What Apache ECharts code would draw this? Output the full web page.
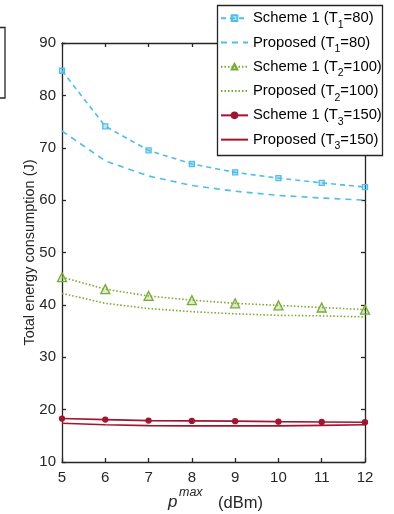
<!DOCTYPE html>
<html><head><meta charset="utf-8">
<script src="https://cdn.jsdelivr.net/npm/echarts@6/dist/echarts.min.js"></script>
<style>html,body{margin:0;padding:0;background:#fff}#c{width:394px;height:514px}</style>
</head><body><div id="c"></div>
<script>
const xValues = [5, 6, 7, 8, 9, 10, 11, 12];
const scheme1T1 = [84.7, 74.1, 69.5, 66.9, 65.3, 64.2, 63.3, 62.5];
const proposedT1 = [73.2, 67.5, 64.6, 62.8, 61.7, 60.9, 60.4, 60.0];
const scheme1T2 = [45.3, 43.0, 41.7, 40.9, 40.3, 39.9, 39.5, 39.1];
const proposedT2 = [42.2, 40.3, 39.3, 38.7, 38.3, 38.0, 37.9, 37.7];
const scheme1T3 = [18.3, 18.1, 17.9, 17.85, 17.8, 17.7, 17.65, 17.6];
const proposedT3 = [17.4, 17.1, 16.95, 16.9, 16.9, 16.9, 17.0, 17.1];
const yTicks = [10, 20, 30, 40, 50, 60, 70, 80, 90];

const BLUE = '#4DBEEE', GREEN = '#77AC30', RED = '#A2142F';
const FONT = 'Liberation Sans, Arial, Helvetica, sans-serif';
const pairs = arr => xValues.map((x, i) => [x, arr[i]]);

const labels = {
  s1t1: '{m|Scheme 1 (T}{sub|1}{m|=80)}',
  pt1: '{m|Proposed (T}{sub|1}{m|=80)}',
  s1t2: '{m|Scheme 1 (T}{sub|2}{m|=100)}',
  pt2: '{m|Proposed (T}{sub|2}{m|=100)}',
  s1t3: '{m|Scheme 1 (T}{sub|3}{m|=150)}',
  pt3: '{m|Proposed (T}{sub|3}{m|=150)}'
};

function ser(name, data, color, type, symbol, size, fill) {
  return {
    name, type: 'line', data: pairs(data), smooth: false,
    symbol: symbol || 'none', symbolSize: size || 0, showSymbol: !!symbol,
    lineStyle: { color, width: 1.6, type },
    itemStyle: { color: fill || color, borderColor: color, borderWidth: 1.3 },
    emphasis: { disabled: true }, animation: false
  };
}

const chart = echarts.init(document.getElementById('c'), null, { renderer: 'canvas' });
const axisCommon = {
  type: 'value',
  axisLine: { show: true, lineStyle: { color: '#262626', width: 1.3 } },
  axisTick: { show: true, inside: true, length: 4, lineStyle: { color: '#262626', width: 1.3 } },
  splitLine: { show: false },
};
const hidden = { opacity: 0, color: 'rgba(0,0,0,0)', borderColor: 'rgba(0,0,0,0)', borderWidth: 0 };
chart.setOption({
  animation: false,
  backgroundColor: '#fff',
  grid: { left: 62, top: 43, right: 29, bottom: 52, containLabel: false },
  xAxis: [
    Object.assign({}, axisCommon, {
      min: 5, max: 12, interval: 1, position: 'bottom',
      axisLabel: { color: '#262626', fontSize: 15, fontFamily: FONT, margin: 8 }
    }),
    Object.assign({}, axisCommon, {
      min: 5, max: 12, interval: 1, position: 'top',
      axisLabel: { show: false }
    })
  ],
  yAxis: [
    Object.assign({}, axisCommon, {
      min: 10, max: 90, interval: 10, position: 'left',
      axisLabel: { color: '#262626', fontSize: 15, fontFamily: FONT, margin: 6, customValues: yTicks },
      name: 'Total energy consumption (J)', nameLocation: 'middle', nameGap: 25,
      nameMoveOverlap: false,
      nameTextStyle: { color: '#262626', fontSize: 14.5, fontFamily: FONT }
    }),
    Object.assign({}, axisCommon, {
      min: 10, max: 90, interval: 10, position: 'right',
      axisLabel: { show: false }
    })
  ],
  legend: {
    orient: 'vertical', left: 220, top: 6, z: 10, padding: 0,
    itemWidth: 27, itemHeight: 7, itemGap: 0,
    data: [
      { name: 's1t1' }, { name: 'pt1', itemStyle: hidden },
      { name: 's1t2' }, { name: 'pt2', itemStyle: hidden },
      { name: 's1t3' }, { name: 'pt3', itemStyle: hidden }
    ],
    formatter: n => labels[n],
    textStyle: {
      color: '#000', fontSize: 15, fontFamily: FONT,
      rich: {
        m: { fontSize: 14.8, fontFamily: FONT, color: '#000', lineHeight: 24.3, verticalAlign: 'top', padding: [4.65, 0, 0, 0] },
        sub: { fontSize: 10.5, fontFamily: FONT, color: '#000', lineHeight: 24.3, verticalAlign: 'bottom' }
      }
    },
    selectedMode: false
  },
  graphic: [
    { type: 'rect', z: 3, shape: { x: 217.5, y: 5.5, width: 165, height: 150 },
      style: { fill: '#fff', stroke: '#262626', lineWidth: 1.3 } },
    { type: 'rect', z: 3, shape: { x: -100, y: 27.5, width: 105, height: 70.5 },
      style: { fill: 'none', stroke: '#262626', lineWidth: 1.3 } },
    { type: 'text', left: 168, top: 494,
      style: { text: 'p', fontSize: 17, fontStyle: 'italic', fontFamily: FONT, fill: '#262626' } },
    { type: 'text', left: 179, top: 486,
      style: { text: 'max', fontSize: 12.5, fontStyle: 'italic', fontFamily: FONT, fill: '#262626' } },
    { type: 'text', left: 218, top: 495,
      style: { text: '(dBm)', fontSize: 16.5, fontFamily: FONT, fill: '#262626' } }
  ],
  series: [
    ser('s1t1', scheme1T1, BLUE, [5, 4], 'rect', 5, 'rgba(77,190,238,0.35)'),
    ser('pt1', proposedT1, BLUE, [6, 5]),
    ser('s1t2', scheme1T2, GREEN, [1.5, 2], 'triangle', 9, 'rgba(119,172,48,0.25)'),
    ser('pt2', proposedT2, GREEN, [1.5, 2]),
    ser('s1t3', scheme1T3, RED, 'solid', 'circle', 5, RED),
    ser('pt3', proposedT3, RED, 'solid')
  ]
});
</script></body></html>
